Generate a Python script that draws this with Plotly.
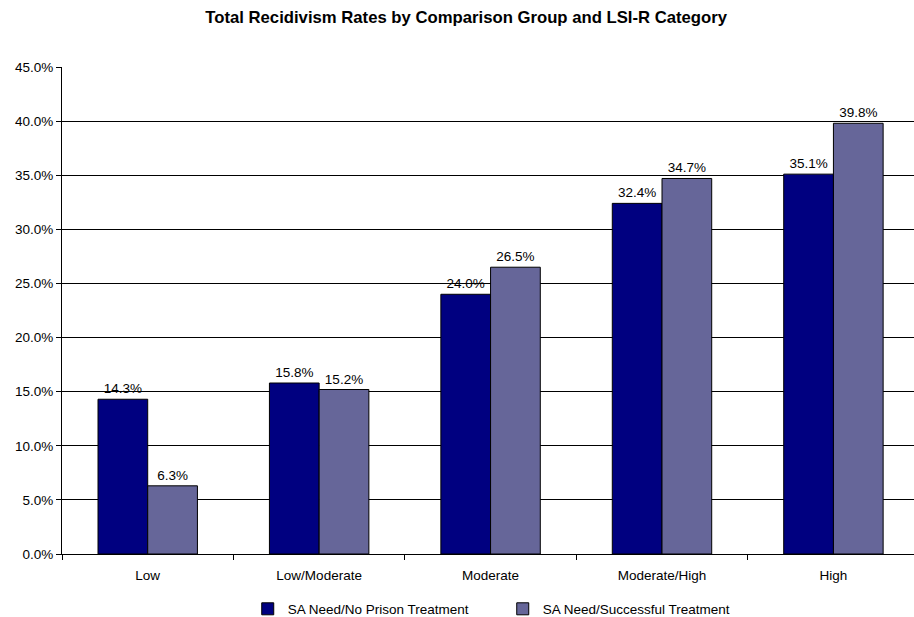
import plotly.graph_objects as go

categories = ["Low", "Low/Moderate", "Moderate", "Moderate/High", "High"]
no_prison_treatment = [0.143, 0.158, 0.240, 0.324, 0.351]
successful_treatment = [0.063, 0.152, 0.265, 0.347, 0.398]

font = "Liberation Sans, Arial, sans-serif"
fs = 13.5

fig = go.Figure()
fig.add_trace(go.Bar(
    x=categories, y=no_prison_treatment, name="SA Need/No Prison Treatment",
    marker=dict(color="#000080", line=dict(color="#000000", width=1)),
    texttemplate="%{y:.1%}", textposition="outside", cliponaxis=False,
    textfont=dict(size=fs, color="#000000", family=font),
))
fig.add_trace(go.Bar(
    x=categories, y=successful_treatment, name="SA Need/Successful Treatment",
    marker=dict(color="#666699", line=dict(color="#000000", width=1)),
    texttemplate="%{y:.1%}", textposition="outside", cliponaxis=False,
    textfont=dict(size=fs, color="#000000", family=font),
))

fig.update_layout(
    width=914, height=617,
    paper_bgcolor="white", plot_bgcolor="white",
    font=dict(family=font, size=fs, color="#000000"),
    title=dict(text="<b>Total Recidivism Rates by Comparison Group and LSI-R Category</b>",
               x=0.51, xanchor="center", y=0.972, yanchor="middle",
               font=dict(size=16.7, family=font, color="#000000")),
    margin=dict(l=62, r=0, t=67, b=63, autoexpand=False),
    barmode="group", bargap=0.42, bargroupgap=0,
    showlegend=True,
    legend=dict(orientation="h", x=0.218, xanchor="left", y=-0.113, yanchor="middle",
                font=dict(size=fs, family=font), itemwidth=30, traceorder="normal",
                entrywidth=210, entrywidthmode="pixels"),
    uniformtext=dict(minsize=12),
)
fig.update_xaxes(
    range=[-0.5, 4.47], showline=True, linecolor="#000000", linewidth=1,
    ticks="outside", tickson="boundaries", ticklen=5, tickcolor="#000000",
    showgrid=False, tickfont=dict(size=fs, family=font), ticklabelstandoff=9,
)
fig.update_yaxes(
    range=[0, 0.45], dtick=0.05, tickformat=".1%", showline=True,
    linecolor="#000000", linewidth=1, ticks="outside", ticklen=5,
    tickcolor="#000000", showgrid=True, gridcolor="#000000", gridwidth=1,
    zeroline=False, tickfont=dict(size=fs, family=font),
)

fig.write_html("out.html")
